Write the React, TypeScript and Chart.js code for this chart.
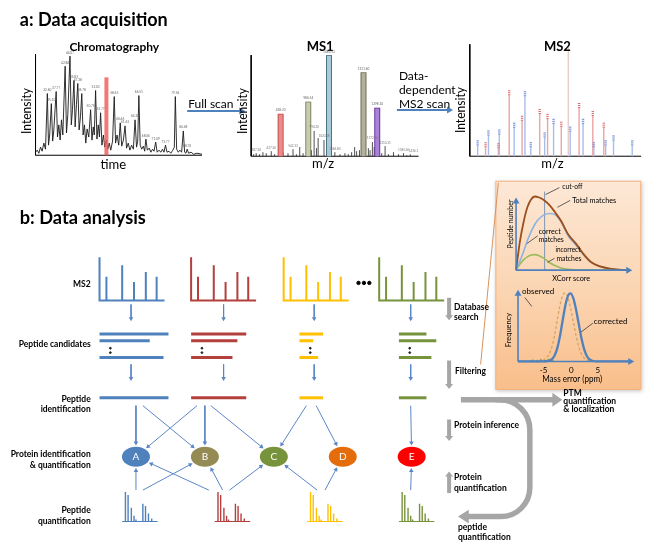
import React, { useEffect, useRef } from "react";
import { Chart, registerables } from "chart.js";
Chart.register(...registerables);

const FONT = "Lato, 'Open Sans', 'Liberation Sans', sans-serif";

// ================= DATA =================
// a: chromatogram  [time %, intensity %]
const chromatogram: [number, number][] = [
  [0, 3], [1, 5], [2, 2], [3, 8], [4, 4], [5, 12], [6, 6], [7.1, 61], [7.8, 10], [8.5, 20], [9.5, 51], [10.3, 14],
  [11, 25], [12.4, 63], [13.2, 18], [14, 30], [14.8, 15], [15.6, 35], [16.4, 20], [17.8, 88], [18.6, 22], [19.4, 40],
  [20.7, 98], [21.5, 30], [22.2, 45], [23.1, 74], [23.8, 28], [24.6, 50], [25.4, 71], [26.2, 25], [27, 38], [27.8, 61],
  [28.6, 20], [29.4, 30], [30.2, 12], [31, 26], [32, 18], [33.1, 45], [33.9, 15], [34.7, 28], [35.3, 20], [36.1, 64],
  [36.9, 16], [37.7, 30], [38.4, 18], [39.1, 42], [39.9, 10], [40.8, 20], [41.6, 8], [42.5, 15], [43.4, 6], [44.3, 12],
  [45.2, 5], [46.3, 14], [47.3, 58], [48.1, 12], [49, 20], [50, 10], [50.9, 32], [51.8, 9], [52.8, 15], [53.8, 29],
  [54.7, 7], [55.7, 12], [56.7, 5], [57.7, 10], [58.8, 6], [59.8, 35], [60.7, 8], [61.4, 14], [62.1, 59], [62.9, 10],
  [63.8, 6], [64.8, 9], [65.6, 4], [66.3, 16], [67.2, 5], [68.3, 7], [69.3, 3], [70.3, 6], [71.2, 4], [72.2, 13],
  [73.1, 3], [74.2, 5], [75.3, 3], [76.3, 6], [77.2, 3], [78.1, 10], [79, 3], [80.2, 4], [81.3, 2], [82.5, 5], [83.4, 8],
  [84, 58], [84.8, 6], [85.8, 3], [86.8, 5], [87.8, 3], [88.8, 24], [89.6, 3], [90.4, 2], [91.1, 6], [92, 2], [93.5, 3],
  [95, 1], [97, 2], [100, 1],
];
const chromPeakLabels: [number, number, string][] = [
  [7.1, 61, "32.60"], [9.5, 51, "35.10"], [12.4, 63, "37.77"], [17.8, 88, "42.80"], [20.7, 98, "44.07"],
  [23.1, 74, "45.83"], [25.4, 71, "47.38"], [27.8, 61, "48.78"], [33.1, 45, "50.75"], [36.1, 64, "52.03"],
  [39.1, 42, "53.77"], [47.3, 58, "58.63"], [50.9, 32, "60.46"], [53.8, 29, "61.63"], [59.8, 35, "64.38"],
  [62.1, 59, "66.51"], [66.3, 16, "68.06"], [72.2, 13, "71.09"], [78.1, 10, "73.77"], [84, 58, "79.56"],
  [88.8, 24, "84.48"], [91.1, 6, "88.70"],
];
const selectedScanTime = 42.6;
const selectedScanIntensity = 77;

// a: MS1 [m/z %, intensity %]
const ms1PrecursorMz = [17.6, 34.1, 46.5, 67.1, 75.3];
const ms1PrecursorInt = [42, 54, 100, 83, 48];
const ms1PrecursorLabels = ["438.23", "986.54", "1082.53", "1211.60", "1298.10"];
const ms1Minor: [number, number][] = [
  [1.5, 2], [3, 3], [5, 2], [7, 4], [9, 3], [12, 5], [14, 2], [19, 4], [22, 3], [25, 7], [27, 2], [29, 9], [31, 3],
  [33, 4], [36, 6], [37.6, 25], [39, 8], [40, 18], [43.5, 16], [45, 5], [48, 3], [50, 4], [53, 2], [56, 3], [58, 2],
  [60, 4], [61.8, 9], [63, 5], [64.7, 6], [66, 4], [70, 8], [71, 6], [72.4, 14], [73.5, 9], [78, 3], [80, 10], [82, 2],
  [85, 4], [88, 2], [91, 3], [93, 1], [95, 2],
];
const ms1MinorLabels: [number, number, string][] = [
  [3, 3, "387.20"], [12, 5, "437.26"], [25, 7, "542.33"], [37.6, 25, "994.30"], [43.5, 16, "1020.48"],
  [50, 4, "1066.80"], [72.4, 14, "1172.30"], [80, 10, "1310.31"], [91, 3, "1385.36"], [97, 2, "1436.1"],
];

// a: MS2 [m/z %, intensity %, ion type]
const ms2Mz = [4.6, 9.2, 10.9, 16.7, 17.2, 23, 25.9, 30.5, 32.2, 35.6, 40.8, 43.7, 45.4, 48.9, 53.4, 57.5, 58.6, 63.8, 66.1, 71.8, 72.4, 78.2, 79.3, 83.9, 94.8];
const ms2Int = [9.6, 7.9, 18.4, 7, 19.3, 54.4, 25.4, 31.6, 53.5, 7.9, 37.7, 16.7, 33.3, 28.9, 26.3, 97.4, 21.9, 43, 28.9, 35.9, 7.9, 25.4, 9.6, 14, 9.6];
const ms2Ion = ["b", "y", "b", "y", "b", "y", "b", "y", "b", "b", "y", "b", "y", "b", "y", "p", "b", "y", "b", "y", "b", "y", "b", "b", "b"];

// b: schematic spectra / peptides / proteins
const fragMz = [7, 23, 35, 47, 58];
const fragInt = [55, 82, 43, 66, 55];
const candidateLengths = [[70, 51, 65], [56, 47, 42], [24, 14, 19], [28, 38, 33]];
const identifiedLengths = [70, 56, 24, 28];
const proteinNames = ["A", "B", "C", "D", "E"];
const peptideToProtein: [number, number][] = [[0, 0], [0, 1], [1, 0], [1, 1], [1, 2], [2, 2], [2, 3], [3, 4]];
const quantToProtein: [number, number][] = [[0, 0], [0, 1], [1, 0], [1, 1], [1, 2], [2, 2], [2, 3], [3, 4]];
const quantMzOffsets = [3.3, 6, 9.3, 12, 14, 21, 23.7, 26.7, 30];
const quantInt = [100, 90, 47, 20, 7, 60, 53, 27, 10];

// b: right panel curves
const xcorrScore = [0, 0.2, 0.4, 0.6, 0.8, 1.0, 1.2, 1.5, 1.8, 2.1, 2.4, 2.8, 3.2, 3.6, 4.0, 4.5, 5.0, 5.5, 6.0];
const totalMatches = [0, 38, 65, 85, 96, 100, 99, 95, 88, 78, 67, 48, 36, 22, 11, 5, 2, 0.5, 0];
const correctMatches = [0, 12, 25, 40, 52, 62, 69, 75, 77, 75, 66, 46, 34, 21, 11, 5, 2, 0.5, 0];
const incorrectMatches = [0, 8, 14, 18, 20.5, 21, 20, 16, 10, 6, 3, 1, 0.3, 0, 0, 0, 0, 0, 0];
const xcorrCutoff = 1.53;
const massErrorPpm = [-9.7, -6, -5, -4.5, -4, -3.5, -3, -2.5, -2, -1.5, -1, -0.5, 0, 0.5, 1, 1.5, 2, 2.5, 3, 3.5, 4, 5, 11];
const observedFreq = [0, 0, 2, 5, 10, 20, 36, 58, 80, 95, 100, 94, 78, 58, 38, 22, 11, 5, 2, 1, 0, 0, 0];
const correctedFreq = [0, 0, 0, 0.5, 1, 3, 8, 18, 35, 58, 80, 95, 99, 92, 76, 55, 34, 18, 8, 3, 1, 0, 0];
const massNoisePpm = [-7, -6.2, -5.5, -4.8, -4.1, -3.4];
const massNoiseFreq = [1, 0.5, 1.5, 1, 2, 1.5];

// ================= LAYOUT / STYLE =================
type Frame = { x0: number; x1: number; u0: number; u1: number; y0: number; y1: number; v0: number; v1: number };
const F_CH: Frame = { x0: 31, x1: 200, u0: 0, u1: 100, y0: 153, y1: 50, v0: 0, v1: 100 };
const F_M1: Frame = { x0: 250, x1: 420, u0: 0, u1: 100, y0: 154, y1: 51, v0: 0, v1: 100 };
const F_M2: Frame = { x0: 472, x1: 646, u0: 0, u1: 100, y0: 154, y1: 40, v0: 0, v1: 100 };
const F_XC: Frame = { x0: 519, x1: 633, u0: 0, u1: 6, y0: 270, y1: 195, v0: 0, v1: 100 };
const F_ME: Frame = { x0: 521, x1: 636.5, u0: -9.7, u1: 11.3, y0: 363, y1: 293, v0: 0, v1: 100 };
const map = (f: Frame, u: number, v: number) => ({
  x: f.x0 + ((u - f.u0) / (f.u1 - f.u0)) * (f.x1 - f.x0),
  y: f.y0 + ((v - f.v0) / (f.v1 - f.v0)) * (f.y1 - f.y0),
});
const BREAK = { x: 0, y: null as any };

const colX = [96, 189, 283, 380];
const colColors = ["#4f81bd", "#b3403d", "#ffc000", "#77933c"];
const candStartX = [96, 189, 299, 400];
const flowArrowX = [128, 222, 314, 412];
const candRowsY = [335, 342, 359];
const proteinX = [133, 203, 273, 343, 413];
const proteinY = 460;
const proteinColors = ["#4f81bd", "#948a54", "#77933c", "#e46c0a", "#ff0000"];
const idLinkStartX = [133, 140, 195, 203, 209, 306, 316, 412];
const quantLinkStartX = [133, 140, 207, 221, 228, 317, 325, 412];
const quantStartX = [119, 213, 307, 400];
const ms1Fill = ["#ef8a8a", "#c9cdb0", "#a9cbd9", "#b3b199", "#a884d6"];
const ms1Edge = ["#c0504d", "#7f8462", "#4b7384", "#6e6c55", "#7030a0"];
const PANEL_BOX = [498, 179, 646, 392];
const FLOW = "#5b86c5";
const GREY = "#a6a6a6";

type Txt = { t: string; x: number; y: number; size: number; bold?: boolean; align?: CanvasTextAlign; rot?: number; maxW?: number; color?: string };
const TEXTS: Txt[] = [
  { t: "a: Data acquisition", x: 15, y: 15, size: 19, bold: true, maxW: 148 },
  { t: "Chromatography", x: 111, y: 43, size: 12, bold: true, align: "center", maxW: 92 },
  { t: "Intensity", x: 22, y: 108, size: 13, align: "center", rot: -Math.PI / 2, maxW: 46 },
  { t: "time", x: 110, y: 163, size: 13, align: "center" },
  { t: "Full scan", x: 186, y: 101, size: 12, maxW: 46 },
  { t: "MS1", x: 320, y: 43, size: 13, bold: true, align: "center" },
  { t: "Intensity", x: 241, y: 108, size: 13, align: "center", rot: -Math.PI / 2, maxW: 46 },
  { t: "m/z", x: 323, y: 162, size: 13, align: "center" },
  { t: "Data-", x: 400, y: 72, size: 12 },
  { t: "dependent", x: 400, y: 87, size: 12, maxW: 62 },
  { t: "MS2 scan", x: 400, y: 101, size: 12, maxW: 56 },
  { t: "MS2", x: 561, y: 43, size: 13, bold: true, align: "center" },
  { t: "Intensity", x: 463, y: 107, size: 13, align: "center", rot: -Math.PI / 2, maxW: 46 },
  { t: "m/z", x: 556, y: 162, size: 13, align: "center" },
  { t: "b: Data analysis", x: 15, y: 217, size: 19, bold: true, maxW: 126 },
  { t: "MS2", x: 87, y: 284, size: 8.5, bold: true, align: "right" },
  { t: "Peptide candidates", x: 87, y: 345, size: 8.5, bold: true, align: "right", maxW: 72 },
  { t: "Peptide", x: 87, y: 401, size: 8.5, bold: true, align: "right", maxW: 30 },
  { t: "identification", x: 87, y: 412, size: 8.5, bold: true, align: "right", maxW: 50 },
  { t: "Protein identification", x: 87, y: 458, size: 8.5, bold: true, align: "right", maxW: 80 },
  { t: "& quantification", x: 87, y: 469, size: 8.5, bold: true, align: "right", maxW: 61 },
  { t: "Peptide", x: 87, y: 515, size: 8.5, bold: true, align: "right", maxW: 30 },
  { t: "quantification", x: 87, y: 526, size: 8.5, bold: true, align: "right", maxW: 54 },
  { t: "Database", x: 456, y: 308, size: 8.5, bold: true, maxW: 35 },
  { t: "search", x: 456, y: 318, size: 8.5, bold: true, maxW: 26 },
  { t: "Filtering", x: 457, y: 373, size: 8.5, bold: true, maxW: 31 },
  { t: "Protein inference", x: 456, y: 428, size: 8.5, bold: true, maxW: 65 },
  { t: "Protein", x: 456, y: 481, size: 8.5, bold: true, maxW: 28 },
  { t: "quantification", x: 456, y: 492, size: 8.5, bold: true, maxW: 53 },
  { t: "PTM", x: 567, y: 395, size: 8.5, bold: true },
  { t: "quantification", x: 567, y: 403.5, size: 8.5, bold: true, maxW: 53 },
  { t: "& localization", x: 567, y: 412, size: 8.5, bold: true, maxW: 51 },
  { t: "peptide", x: 460, y: 532, size: 8.5, bold: true, maxW: 29 },
  { t: "quantification", x: 460, y: 542, size: 8.5, bold: true, maxW: 53 },
  { t: "cut-off", x: 566, y: 185, size: 7.5, maxW: 20 },
  { t: "Total matches", x: 576, y: 199, size: 7.5, maxW: 44 },
  { t: "Peptide number", x: 513.5, y: 223, size: 7, align: "center", rot: -Math.PI / 2, maxW: 50 },
  { t: "XCorr score", x: 575, y: 279, size: 7.5, align: "center", maxW: 38 },
  { t: "correct", x: 542, y: 231, size: 7.5, maxW: 22 },
  { t: "matches", x: 542, y: 239, size: 7.5, maxW: 25 },
  { t: "incorrect", x: 559, y: 249, size: 7.5, maxW: 25 },
  { t: "matches", x: 560, y: 258, size: 7.5, maxW: 25 },
  { t: "observed", x: 525, y: 292, size: 8, maxW: 33 },
  { t: "Frequency", x: 511, y: 331, size: 7.5, align: "center", rot: -Math.PI / 2, maxW: 38 },
  { t: "corrected", x: 598, y: 322, size: 8, maxW: 35 },
  { t: "-5", x: 547, y: 372, size: 8, align: "center" },
  { t: "0", x: 575, y: 372, size: 8, align: "center" },
  { t: "5", x: 602, y: 372, size: 8, align: "center" },
  { t: "Mass error (ppm)", x: 576, y: 381, size: 8.5, align: "center", maxW: 60 },
];

// ================= BUILD =================
function buildDatasets() {
  const ds: any[] = [];
  const add = (d: any) => { d.order = -ds.length; ds.push(d); };
  const line = (pts: any[], color: string, width: number, extra: any = {}) =>
    add({ type: "scatter", data: pts, showLine: true, borderColor: color, backgroundColor: color, borderWidth: width, pointRadius: 0, spanGaps: false, borderCapStyle: "butt", ...extra });
  const dots = (pts: any[], color: string, r: number, style: any = "circle", bw = 1) =>
    add({ type: "scatter", data: pts, showLine: false, pointRadius: r, pointStyle: style, backgroundColor: color, borderColor: color, borderWidth: bw });
  const arrow = (from: any, to: any, color: string, width: number, len: number, half: number) => {
    const dx = to.x - from.x, dy = to.y - from.y, d = Math.hypot(dx, dy);
    const base = { x: to.x - (dx / d) * len * 0.85, y: to.y - (dy / d) * len * 0.85 };
    line([from, base], color, width, { head: { tip: to, from, len, half, color } });
  };
  const sticks = (f: Frame, xs: number[], ys: number[], color: string, width: number) => {
    const pts: any[] = [];
    xs.forEach((u, i) => { pts.push(map(f, u, 0), map(f, u, ys[i]), BREAK); });
    line(pts, color, width);
  };
  const ellipseEdge = (cx: number, cy: number, px: number, py: number, gap: number) => {
    const dx = px - cx, dy = py - cy;
    const t = 1 / Math.sqrt((dx / 14) ** 2 + (dy / 10) ** 2);
    const d = Math.hypot(dx, dy);
    return { x: cx + dx * t + (dx / d) * gap, y: cy + dy * t + (dy / d) * gap };
  };

  // ---- a: chromatography
  line([map(F_CH, 0, 100), map(F_CH, 0, 0), map(F_CH, 100, 0)], "#000", 1);
  line(chromatogram.map(([t, v]) => map(F_CH, t, v)), "#1a1a1a", 0.9);
  line([map(F_CH, selectedScanTime, 0), map(F_CH, selectedScanTime, selectedScanIntensity)], "rgba(236,96,96,0.85)", 4);
  arrow({ x: 185, y: 108 }, { x: 244, y: 108 }, "#4f81bd", 2, 6, 3.5);

  // ---- a: MS1
  line([map(F_M1, 0, 100), map(F_M1, 0, 0), map(F_M1, 100, 0)], "#000", 1);
  sticks(F_M1, ms1Minor.map((p) => p[0]), ms1Minor.map((p) => p[1]), "#222", 0.8);
  ms1PrecursorMz.forEach((m, i) => {
    line([map(F_M1, m, 0), map(F_M1, m, ms1PrecursorInt[i])], ms1Edge[i], 6);
    line([map(F_M1, m, 0), map(F_M1, m, ms1PrecursorInt[i] - 0.8)], ms1Fill[i], 4);
  });
  arrow({ x: 398, y: 107 }, { x: 455, y: 107 }, "#4f81bd", 2, 6, 3.5);

  // ---- a: MS2
  line([map(F_M2, 0, 100), map(F_M2, 0, 0), map(F_M2, 100, 0)], "#000", 1);
  const ionLine: any = { y: "#eaa5a5", b: "#a9bdea", p: "#e9cccc" };
  const ionMark: any = { y: "#d86a6a", b: "#6a84d6" };
  ["p", "y", "b"].forEach((k) => {
    const idx = ms2Ion.map((v, i) => (v === k ? i : -1)).filter((i) => i >= 0);
    sticks(F_M2, idx.map((i) => ms2Mz[i]), idx.map((i) => ms2Int[i]), ionLine[k], 1.4);
  });
  ["y", "b"].forEach((k) => {
    const pts: any[] = [];
    ms2Ion.forEach((v, i) => {
      if (v !== k) return;
      [0.5, 2.3, 4.1].forEach((o) => pts.push(map(F_M2, ms2Mz[i], ms2Int[i] + o)));
    });
    dots(pts, ionMark[k], 1.2, "line", 1);
  });

  // ---- b: spectra columns
  colX.forEach((X, c) => {
    const col = colColors[c];
    line([{ x: X, y: 257 }, { x: X, y: 301 }, { x: X + 66, y: 301 }], col, 2);
    const pts: any[] = [];
    fragMz.forEach((m, i) => pts.push({ x: X + m, y: 301 }, { x: X + m, y: 301 - fragInt[i] * 0.44 }, BREAK));
    line(pts, col, 2);
    arrow({ x: flowArrowX[c], y: 305 }, { x: flowArrowX[c], y: 322 }, FLOW, 1, 4, 2.3);
    const cpts: any[] = [];
    candidateLengths[c].forEach((L, r) => cpts.push({ x: candStartX[c], y: candRowsY[r] }, { x: candStartX[c] + L, y: candRowsY[r] }, BREAK));
    line(cpts, col, 3);
    dots([{ x: candStartX[c] + 11, y: 349.5 }, { x: candStartX[c] + 11, y: 354 }], "#222", 0.9);
    arrow({ x: flowArrowX[c], y: 366 }, { x: flowArrowX[c], y: 383 }, FLOW, 1, 4, 2.3);
    line([{ x: candStartX[c], y: 400 }, { x: candStartX[c] + identifiedLengths[c], y: 400 }], col, 3);
    // quant spectra
    const q0 = quantStartX[c];
    line([{ x: q0, y: 526 }, { x: q0 + 36, y: 526 }], col, 1.2);
    const qp: any[] = [];
    quantMzOffsets.forEach((o, i) => qp.push({ x: q0 + o, y: 526 }, { x: q0 + o, y: 526 - quantInt[i] * 0.3 }, BREAK));
    line(qp, col, 1.4);
  });
  dots([{ x: 359, y: 283 }, { x: 364.5, y: 283 }, { x: 370, y: 283 }], "#000", 1.7);

  // links peptide -> protein
  peptideToProtein.forEach(([p, q], i) => {
    const from = { x: idLinkStartX[i], y: 408 };
    arrow(from, ellipseEdge(proteinX[q], proteinY, from.x, from.y, 1.5), FLOW, 1, 4, 2.3);
  });
  quantToProtein.forEach(([p, q], i) => {
    const from = { x: quantLinkStartX[i], y: 494 };
    arrow(from, ellipseEdge(proteinX[q], proteinY, from.x, from.y, 1.5), FLOW, 1, 4, 2.3);
  });

  // grey process brackets
  arrow({ x: 451, y: 298 }, { x: 451, y: 321 }, GREY, 4, 5, 4);
  arrow({ x: 451, y: 362 }, { x: 451, y: 391 }, GREY, 4, 5, 4);
  arrow({ x: 451, y: 422 }, { x: 451, y: 444 }, GREY, 4, 5, 4);
  arrow({ x: 451, y: 497 }, { x: 451, y: 475 }, GREY, 4, 5, 4);
  arrow({ x: 463, y: 402 }, { x: 566, y: 402 }, GREY, 5.5, 10, 7);

  // connector line from filtering to panel
  line([{ x: 483, y: 366 }, { x: 501, y: 181 }], "#d9925b", 1);

  // ---- right panel: XCorr
  const sm = { cubicInterpolationMode: "monotone" };
  line([map(F_XC, xcorrCutoff, 0), { x: 548, y: 190 }], "#7f97b2", 1);
  line(xcorrScore.map((s, i) => map(F_XC, s, incorrectMatches[i])), "#9bbb59", 1.6, sm);
  line(xcorrScore.map((s, i) => map(F_XC, s, correctMatches[i])), "#8db3e2", 1.6, sm);
  line(xcorrScore.map((s, i) => map(F_XC, s, totalMatches[i])), "#9c4f1c", 1.8, sm);
  arrow({ x: 519, y: 270 }, { x: 519, y: 196 }, "#4f81bd", 1.6, 6, 3.5);
  arrow({ x: 519, y: 270 }, { x: 637, y: 270 }, "#4f81bd", 1.6, 6, 3.5);
  const ptr = "#3a3a3a";
  line([{ x: 549, y: 193 }, { x: 563, y: 186 }], ptr, 0.8);
  line([{ x: 561, y: 206 }, { x: 574, y: 199 }], ptr, 0.8);
  line([{ x: 530, y: 243 }, { x: 541, y: 235 }], ptr, 0.8);
  line([{ x: 551, y: 262 }, { x: 558, y: 258 }], ptr, 0.8);

  // ---- right panel: mass error
  dots(massNoisePpm.map((p, i) => map(F_ME, p, massNoiseFreq[i])), "#7fa050", 0.9);
  line(massErrorPpm.map((p, i) => map(F_ME, p, observedFreq[i])), "#d8a460", 1.3, { ...sm, borderDash: [3, 2] });
  line(massErrorPpm.map((p, i) => map(F_ME, p, correctedFreq[i])), "#4f81bd", 2.3, sm);
  arrow({ x: 521, y: 363 }, { x: 521, y: 290 }, "#4f81bd", 1.6, 6, 3.5);
  arrow({ x: 521, y: 363 }, { x: 639, y: 363 }, "#4f81bd", 1.6, 6, 3.5);
  line([{ x: 528, y: 298 }, { x: 535, y: 307 }], ptr, 0.8);
  line([{ x: 597, y: 324 }, { x: 585, y: 333 }], ptr, 0.8);
  return ds;
}

function buildTexts(): Txt[] {
  const out: Txt[] = [...TEXTS];
  chromPeakLabels.forEach(([t, v, s]) => { const p = map(F_CH, t, v + 3.5); out.push({ t: s, x: p.x, y: p.y, size: 3.2, align: "center", color: "#666" }); });
  ms1PrecursorMz.forEach((m, i) => { const p = map(F_M1, m, Math.min(ms1PrecursorInt[i], 100) + 3.5); out.push({ t: ms1PrecursorLabels[i], x: p.x, y: p.y, size: 3.2, align: "center", color: "#666" }); });
  ms1MinorLabels.forEach(([m, v, s]) => { const p = map(F_M1, m, v + 3.5); out.push({ t: s, x: p.x, y: p.y, size: 3, align: "center", color: "#777" }); });
  return out;
}

const diagramPlugin = {
  id: "diagram",
  beforeDatasetsDraw(chart: any) {
    const { ctx, scales } = chart;
    const X = (v: number) => scales.x.getPixelForValue(v);
    const Y = (v: number) => scales.y.getPixelForValue(v);
    const [bx0, by0, bx1, by1] = PANEL_BOX;
    ctx.save();
    ctx.shadowColor = "rgba(0,0,0,0.25)";
    ctx.shadowBlur = 4;
    ctx.shadowOffsetX = 1;
    ctx.shadowOffsetY = 1;
    const g = ctx.createLinearGradient(0, Y(by0), 0, Y(by1));
    g.addColorStop(0, "#fde8d6");
    g.addColorStop(0.5, "#fbd6b4");
    g.addColorStop(1, "#f9be8a");
    ctx.fillStyle = g;
    ctx.fillRect(X(bx0), Y(by0), X(bx1) - X(bx0), Y(by1) - Y(by0));
    ctx.restore();
    ctx.save();
    ctx.strokeStyle = "#f3b585";
    ctx.lineWidth = 1;
    ctx.strokeRect(X(bx0) + 0.5, Y(by0) + 0.5, X(bx1) - X(bx0) - 1, Y(by1) - Y(by0) - 1);
    ctx.restore();
  },
  afterDatasetsDraw(chart: any) {
    const { ctx, scales } = chart;
    const X = (v: number) => scales.x.getPixelForValue(v);
    const Y = (v: number) => scales.y.getPixelForValue(v);
    // curved grey arrow
    ctx.save();
    ctx.strokeStyle = GREY;
    ctx.lineWidth = 5.5;
    ctx.beginPath();
    ctx.moveTo(X(498), Y(402));
    ctx.arcTo(X(533), Y(402), X(533), Y(440), 30);
    ctx.lineTo(X(533), Y(492));
    ctx.arcTo(X(533), Y(521), X(500), Y(521), 29);
    ctx.lineTo(X(470), Y(521));
    ctx.stroke();
    ctx.fillStyle = GREY;
    ctx.beginPath();
    ctx.moveTo(X(460), Y(521));
    ctx.lineTo(X(471), Y(514));
    ctx.lineTo(X(471), Y(528));
    ctx.closePath();
    ctx.fill();
    ctx.restore();
    // arrowheads
    chart.data.datasets.forEach((d: any) => {
      if (!d.head) return;
      const { tip, from, len, half, color } = d.head;
      const tx = X(tip.x), ty = Y(tip.y), fx = X(from.x), fy = Y(from.y);
      const dx = tx - fx, dy = ty - fy, L = Math.hypot(dx, dy);
      const ux = dx / L, uy = dy / L;
      ctx.save();
      ctx.fillStyle = color;
      ctx.beginPath();
      ctx.moveTo(tx, ty);
      ctx.lineTo(tx - ux * len - uy * half, ty - uy * len + ux * half);
      ctx.lineTo(tx - ux * len + uy * half, ty - uy * len - ux * half);
      ctx.closePath();
      ctx.fill();
      ctx.restore();
    });
    // protein ellipses
    proteinNames.forEach((n, i) => {
      ctx.save();
      ctx.fillStyle = proteinColors[i];
      ctx.beginPath();
      ctx.ellipse(X(proteinX[i]), Y(proteinY), 14, 10, 0, 0, Math.PI * 2);
      ctx.fill();
      ctx.fillStyle = "#fff";
      ctx.font = `10px ${FONT}`;
      ctx.textAlign = "center";
      ctx.textBaseline = "middle";
      ctx.fillText(n, X(proteinX[i]), Y(proteinY) + 0.5);
      ctx.restore();
    });
    // texts
    buildTexts().forEach((L) => {
      ctx.save();
      ctx.font = `${L.bold ? "bold " : ""}${L.size}px ${FONT}`;
      ctx.fillStyle = L.color || "#000";
      ctx.textAlign = L.align || "left";
      ctx.textBaseline = "middle";
      ctx.translate(X(L.x), Y(L.y));
      if (L.rot) ctx.rotate(L.rot);
      if (L.maxW) ctx.fillText(L.t, 0, 0, L.maxW);
      else ctx.fillText(L.t, 0, 0);
      ctx.restore();
    });
  },
};

export default function App() {
  const ref = useRef<HTMLCanvasElement>(null);
  useEffect(() => {
    const chart = new Chart(ref.current as HTMLCanvasElement, {
      type: "scatter",
      data: { datasets: buildDatasets() },
      options: {
        animation: false,
        responsive: false,
        devicePixelRatio: 1,
        events: [],
        layout: { padding: 0 },
        plugins: { legend: { display: false }, tooltip: { enabled: false }, title: { display: false } },
        scales: {
          x: { type: "linear", min: 0, max: 654, display: false },
          y: { type: "linear", min: 0, max: 555, reverse: true, display: false },
        },
      } as any,
      plugins: [diagramPlugin as any],
    });
    return () => chart.destroy();
  }, []);
  return (
    <div style={{ position: "absolute", left: 0, top: 0, width: 654, height: 555, background: "#fff" }}>
      <canvas ref={ref} width={654} height={555} style={{ display: "block" }} />
    </div>
  );
}
